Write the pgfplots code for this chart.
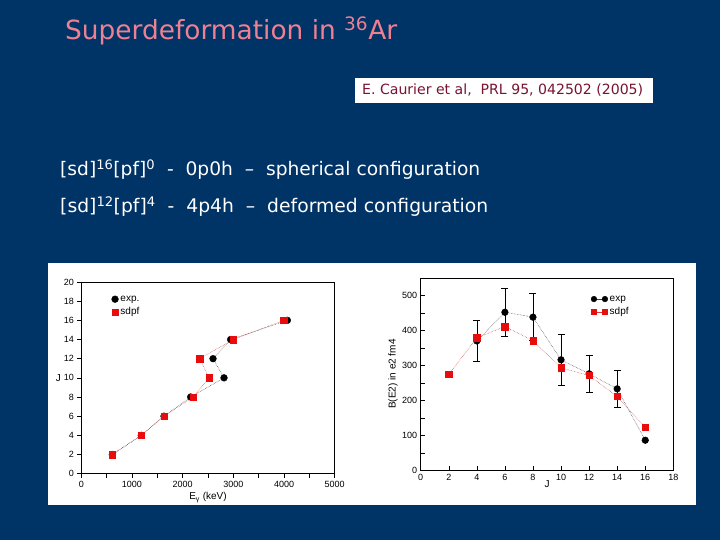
\documentclass[border=0pt]{standalone}
\usepackage{fontspec}
\setmainfont{Liberation Sans}
\newfontfamily\slidefont{DejaVu Sans}
\usepackage{pgfplots}
\pgfplotsset{compat=1.18}
\definecolor{slidebg}{RGB}{0,51,102}
\definecolor{titlepink}{RGB}{238,128,146}
\definecolor{citered}{RGB}{120,20,50}
\definecolor{sdred}{RGB}{232,12,12}
\definecolor{linegray}{RGB}{60,60,60}
\definecolor{linered}{RGB}{200,60,60}
\begin{document}
\begin{tikzpicture}[x=1pt,y=1pt]
\fill[slidebg] (0,0) rectangle (720,540);
\useasboundingbox (0,0) rectangle (720,540);
% title
\node[anchor=base west, text=titlepink, inner sep=0] at (65,500)
  {\resizebox{332pt}{!}{\slidefont\fontsize{24}{28}\selectfont Superdeformation in \textsuperscript{36}Ar}};
% citation
\fill[white] (355,437) rectangle (653,462);
\node[anchor=west, text=citered, inner sep=0] at (362,449.5)
  {\resizebox{281pt}{!}{\slidefont\fontsize{12}{14}\selectfont E. Caurier et al,\ \ PRL 95, 042502 (2005)}};
% lines
\node[anchor=base west, text=white, inner sep=0] at (60,364)
  {\resizebox{420pt}{!}{\slidefont\fontsize{18}{22}\selectfont [sd]\textsuperscript{16}[pf]\textsuperscript{0}\ \ -\ \ 0p0h\ \ –\ \ spherical configuration}};
\node[anchor=base west, text=white, inner sep=0] at (60,327)
  {\resizebox{428pt}{!}{\slidefont\fontsize{18}{22}\selectfont [sd]\textsuperscript{12}[pf]\textsuperscript{4}\ \ -\ \ 4p4h\ \ –\ \ deformed configuration}};
% white panel
\fill[white] (48,35) rectangle (696,277);

\pgfplotsset{
  every axis/.append style={
    scale only axis,
    /pgf/number format/assume math mode=true,
    /pgf/number format/set thousands separator={},
    tick label style={font=\fontsize{9}{10}\selectfont, text=black},
    label style={font=\fontsize{10}{11}\selectfont},
    axis line style={black, line width=0.8pt},
    major tick length=4pt, minor tick length=4pt,
    tick style={black, line width=0.5pt},
    tick pos=left,
    legend cell align=left,
  }
}

% left axis
\begin{axis}[
  at={(81.3pt,66.3pt)}, anchor=south west,
  width=253.4pt, height=191.7pt,
  xmin=0, xmax=5000, ymin=0, ymax=20,
  xtick={0,1000,...,5000}, minor xtick={500,1500,...,4500},
  ytick={0,2,...,20},
  tick align=outside,
  xlabel={E\textsubscript{γ} (keV)},
  ylabel={J},
  xlabel style={at={(axis description cs:0.5,-0.125)}, anchor=center},
  ylabel style={rotate=-90, at={(axis description cs:-0.09,0.5)}, anchor=center},
  legend style={draw=none, fill=none, at={(rel axis cs:0.115,0.945)}, anchor=north west,
    font=\fontsize{10}{11}\selectfont, row sep=1pt, inner sep=1pt},
  legend image code/.code={\draw[#1] plot coordinates {(4pt,0pt)};},
]
\addplot[linegray, densely dotted, line width=0.5pt, forget plot] coordinates {
 (612,2) (1184,4) (1632,6) (2158,8) (2816,10) (2599,12) (2947,14) (4066,16)};
\addplot[only marks, mark=*, mark size=3.4pt, black] coordinates {
 (612,2) (1184,4) (1632,6) (2158,8) (2816,10) (2599,12) (2947,14) (4066,16)};
\addlegendentry{exp.}
\addplot[linered, densely dotted, line width=0.5pt, forget plot] coordinates {
 (612,2) (1184,4) (1632,6) (2210,8) (2520,10) (2336,12) (3000,14) (3993,16)};
\addplot[only marks, mark=square*, mark size=3.2pt, sdred, mark options={draw=sdred, fill=sdred}] coordinates {
 (612,2) (1184,4) (1632,6) (2210,8) (2520,10) (2336,12) (3000,14) (3993,16)};
\addlegendentry{sdpf}
\end{axis}

% right axis
\begin{axis}[
  at={(420.7pt,69.7pt)}, anchor=south west,
  width=252.6pt, height=192.3pt,
  xmin=0, xmax=18, ymin=0, ymax=550,
  xtick={0,2,...,18},
  ytick={0,100,...,500}, minor ytick={50,150,...,450},
  tick align=inside,
  xlabel={J},
  ylabel={B(E2) in e2 fm4},
  xlabel style={at={(axis description cs:0.5,-0.035)}, anchor=north},
  ylabel style={at={(axis description cs:-0.11,0.5)}, anchor=center},
  legend style={draw=none, fill=none, at={(rel axis cs:0.67,0.925)}, anchor=north west,
    font=\fontsize{10}{11}\selectfont, row sep=1pt, inner sep=1pt},
  legend image code/.code={\draw[#1, solid, mark size=2.8pt] plot coordinates {(0pt,0pt) (11pt,0pt)};},
]
\addplot[linegray, densely dotted, line width=0.5pt, mark=*, mark size=3.3pt,
  mark options={solid, fill=black, draw=black},
  error bars/.cd, y dir=both, y explicit,
  error bar style={solid, black, line width=0.5pt}, error mark options={rotate=90, mark size=3.5pt, black, line width=0.5pt}]
 coordinates {
 (4,370) +- (0,58)
 (6,452) +- (0,68)
 (8,438) +- (0,67)
 (10,316) +- (0,74)
 (12,276) +- (0,54)
 (14,233) +- (0,52)
 (16,86) +- (0,0)};
\addlegendentry{exp}
\addplot[linered, densely dotted, line width=0.5pt, mark=square*, mark size=3.2pt,
  mark options={solid, fill=sdred, draw=sdred}] coordinates {
 (2,274) (4,379) (6,411) (8,371) (10,293) (12,271) (14,211) (16,123)};
\addlegendentry{sdpf}
\end{axis}
\end{tikzpicture}
\end{document}
